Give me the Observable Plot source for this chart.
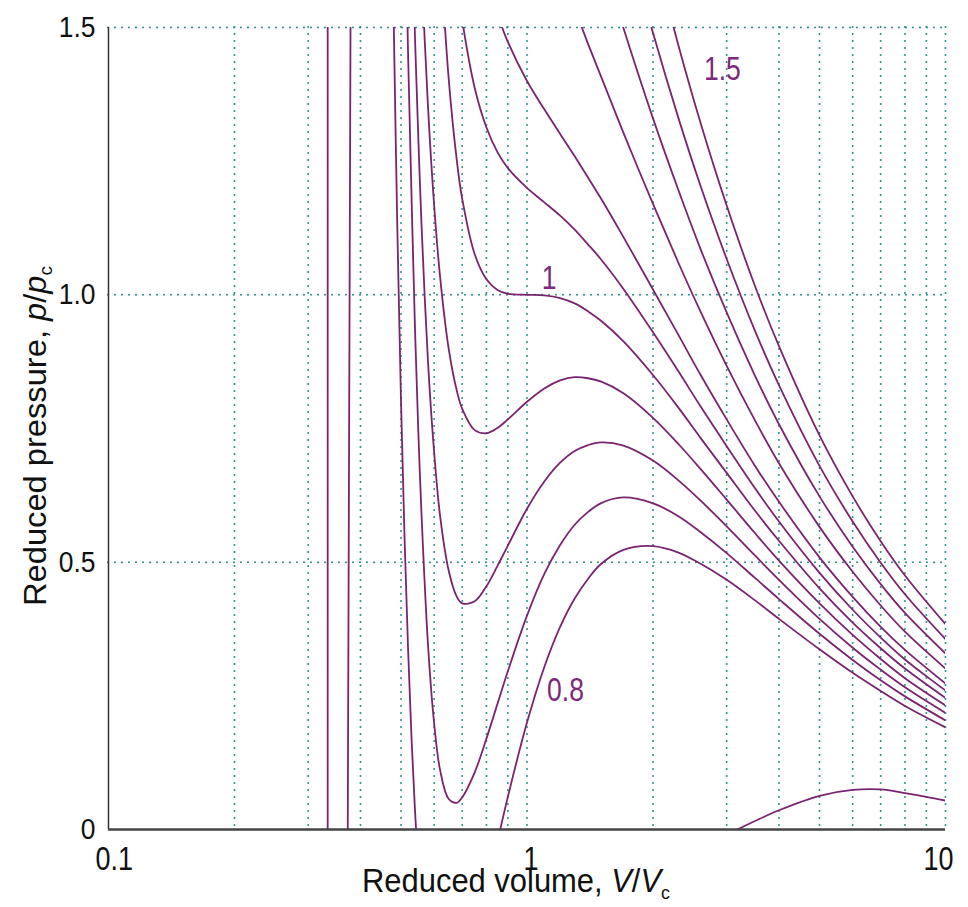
<!DOCTYPE html>
<html>
<head>
<meta charset="utf-8">
<script src="https://cdn.jsdelivr.net/npm/d3@7"></script>
<script src="https://cdn.jsdelivr.net/npm/@observablehq/plot@0.6"></script>
<style>
  html, body { margin: 0; padding: 0; background: #fff; }
  #chart svg { display: block; }
</style>
</head>
<body>
<div id="chart"></div>
<script>
// Reduced volume sample points (V/Vc)
const vol = [0.48,0.49,0.5,0.51,0.52,0.53,0.54,0.55,0.56,0.58,0.6,0.62,0.65,0.68,0.7,0.75,0.8,0.85,0.9,1.0,1.1,1.2,1.3,1.4,1.5,1.7,2.0,2.3,2.6,3.0,3.5,4,5,6,7,8,10];

// Reduced pressure (p/pc) read along each isotherm (reduced temperature)
const temps = [0.8, 0.85, 0.9, 0.95, 1.0, 1.05, 1.1, 1.2, 1.3, 1.4, 1.5];
const p080 = [1.524,1.122,0.8,0.541,0.334,0.167,0.035,-0.071,-0.154,-0.269,-0.333,-0.362,-0.364,-0.334,-0.304,-0.213,-0.116,-0.023,0.061,0.2,0.304,0.379,0.432,0.469,0.496,0.523,0.53,0.518,0.497,0.467,0.429,0.394,0.337,0.293,0.259,0.231,0.191];
const p085 = [null,null,2.17,1.769,1.445,1.178,0.935,0.743,0.585,0.346,0.198,0.111,0.057,0.050,0.060,0.107,0.170,0.235,0.296,0.4,0.478,0.532,0.570,0.594,0.610,0.621,0.61,0.586,0.556,0.517,0.471,0.431,0.366,0.317,0.279,0.249,0.204];
const p090 = [null,null,null,null,1.98,1.709,1.48,1.292,1.127,0.875,0.705,0.586,0.484,0.435,0.423,0.427,0.455,0.493,0.531,0.6,0.651,0.686,0.708,0.719,0.724,0.718,0.69,0.653,0.615,0.567,0.513,0.467,0.394,0.340,0.299,0.266,0.218];
const p095 = [null,null,null,null,null,null,null,1.775,1.610,1.352,1.167,1.033,0.899,0.820,0.787,0.747,0.741,0.751,0.767,0.8,0.825,0.840,0.846,0.844,0.838,0.816,0.77,0.721,0.674,0.617,0.555,0.503,0.423,0.364,0.319,0.283,0.232];
const p100 = [null,null,null,null,null,null,null,null,null,2.145,1.859,1.647,1.404,1.25,1.18,1.076,1.029,1.009,1.002,1.0,0.999,0.994,0.984,0.969,0.952,0.913,0.85,0.789,0.732,0.667,0.597,0.540,0.451,0.387,0.339,0.301,0.246];
const p105 = [null,null,null,null,null,null,null,null,null,null,null,1.963,1.741,1.589,1.514,1.387,1.313,1.267,1.237,1.2,1.173,1.148,1.122,1.094,1.067,1.011,0.93,0.857,0.791,0.717,0.639,0.576,0.48,0.411,0.359,0.318,0.260];
const p110 = [null,null,null,null,null,null,null,null,null,null,null,null,null,null,null,1.707,1.598,1.525,1.473,1.4,1.347,1.301,1.259,1.219,1.181,1.108,1.01,0.925,0.850,0.767,0.681,0.613,0.509,0.435,0.379,0.336,0.273];
const p120 = [null,null,null,null,null,null,null,null,null,null,null,null,null,null,null,null,null,null,null,null,1.695,1.609,1.535,1.469,1.410,1.303,1.17,1.060,0.968,0.867,0.766,0.685,0.566,0.482,0.419,0.370,0.301];
const p130 = [null,null,null,null,null,null,null,null,null,null,null,null,null,null,null,null,null,null,null,null,null,null,null,1.719,1.638,1.499,1.33,1.196,1.085,0.967,0.850,0.758,0.623,0.529,0.459,0.405,0.329];
const p140 = [null,null,null,null,null,null,null,null,null,null,null,null,null,null,null,null,null,null,null,null,null,null,null,null,1.867,1.694,1.49,1.331,1.203,1.067,0.934,0.831,0.68,0.576,0.499,0.440,0.356];
const p150 = [null,null,null,null,null,null,null,null,null,null,null,null,null,null,null,null,null,null,null,null,null,null,null,null,null,1.889,1.65,1.467,1.321,1.167,1.018,0.904,0.737,0.623,0.539,0.475,0.384];
const pressures = [p080, p085, p090, p095, p100, p105, p110, p120, p130, p140, p150];

// Low-temperature isotherm (two visible branches) and the near-vertical line at V ≈ 1/3
const lowLeftVol = [0.3787, 0.3730];
const lowLeftP = [1.5, 0];
const lowRightVol = [3.18, 3.6, 4.0, 5.0, 6.0, 7.0, 8.0, 9.0, 10];
const lowRightP = [0, 0.02, 0.036, 0.063, 0.074, 0.075, 0.068, 0.061, 0.054];
const asymVol = [0.334, 0.334];
const asymP = [0, 1.5];

// Grid and ticks
const xGrid = [0.2,0.3,0.4,0.5,0.6,0.7,0.8,0.9,1,2,3,4,5,6,7,8,9,10];
const yGrid = [0.5, 1.0, 1.5];
const xTickValues = [0.1, 1, 10];
const xTickLabels = ["0.1", "1", "10"];
const yTickValues = [0, 0.5, 1.0, 1.5];
const yTickLabels = ["0", "0.5", "1.0", "1.5"];

// Curve labels
const labelText = ["1.5", "1", "0.8"];
const labelVol = [2.93, 1.129, 1.236];
const labelP = [1.423, 1.032, 0.26];

// Build tables
const isoTable = temps.flatMap((T, k) =>
  vol.map((V, i) => ({T, V, p: pressures[k][i]})).filter(d => d.p != null));
const extraTable = [
  ...lowLeftVol.map((V, i) => ({id: "lowL", V, p: lowLeftP[i]})),
  ...lowRightVol.map((V, i) => ({id: "lowR", V, p: lowRightP[i]})),
  ...asymVol.map((V, i) => ({id: "asym", V, p: asymP[i]}))
];
const labels = labelText.map((t, i) => ({t, V: labelVol[i], p: labelP[i]}));

const purple = "#7a2470";
const teal = "#2a8a8a";
const FONT = "Liberation Sans, Arial, Helvetica, sans-serif";

const plot = Plot.plot({
  width: 968,
  height: 907,
  marginLeft: 108,
  marginRight: 23,
  marginTop: 27,
  marginBottom: 78,
  style: {fontFamily: FONT, background: "#fff", overflow: "visible"},
  x: {type: "log", domain: [0.1, 10], axis: null},
  y: {domain: [0, 1.5], axis: null},
  marks: [
    Plot.ruleX(xGrid, {x: d => d, stroke: teal, strokeWidth: 2, strokeDasharray: "0 7", strokeLinecap: "round"}),
    Plot.ruleY(yGrid, {y: d => d, stroke: teal, strokeWidth: 2, strokeDasharray: "0 7", strokeLinecap: "round"}),
    Plot.line(isoTable, {x: "V", y: "p", z: "T", stroke: purple, strokeWidth: 1.8, curve: "catmull-rom", clip: true}),
    Plot.line(extraTable, {x: "V", y: "p", z: "id", stroke: purple, strokeWidth: 1.8, curve: "catmull-rom", clip: true}),
    Plot.ruleX([0.1], {stroke: "#333", strokeWidth: 1.5}),
    Plot.ruleY([0], {stroke: "#444", strokeWidth: 2.5}),
    // y tick labels
    Plot.text(yTickValues, {x: () => 0.1, y: d => d, text: (d, i) => yTickLabels[i], textAnchor: "end", lineAnchor: "middle", dx: -13, fontSize: 30, fill: "#111"}),
    // x tick labels
    Plot.text(xTickValues, {filter: (d, i) => i === 0, x: d => d, y: () => 0, text: (d, i) => xTickLabels[i], textAnchor: "start", lineAnchor: "middle", dx: -13, dy: 30, fontSize: 32.5, fill: "#111"}),
    Plot.text(xTickValues, {filter: (d, i) => i === 1, x: d => d, y: () => 0, text: (d, i) => xTickLabels[i], textAnchor: "middle", lineAnchor: "middle", dx: 4, dy: 30, fontSize: 32.5, fill: "#111"}),
    Plot.text(xTickValues, {filter: (d, i) => i === 2, x: d => d, y: () => 0, text: (d, i) => xTickLabels[i], textAnchor: "end", lineAnchor: "middle", dx: 8, dy: 30, fontSize: 32.5, fill: "#111"}),
    // curve labels
    Plot.text(labels, {x: "V", y: "p", text: "t", textAnchor: "middle", lineAnchor: "middle", fontSize: 34, fill: "#7d2a7a"})
  ]
});

document.getElementById("chart").appendChild(plot);

// horizontal condensing of some texts
function squeeze(sel, s) {
  plot.querySelectorAll(sel).forEach(el => {
    const t = el.getAttribute("transform");
    if (t) el.setAttribute("transform", t + ` scale(${s},1)`);
    else {
      const x = +el.getAttribute("x") || 0, y = +el.getAttribute("y") || 0;
      el.removeAttribute("x"); el.removeAttribute("y");
      el.setAttribute("transform", `translate(${x},${y}) scale(${s},1)`);
    }
  });
}
squeeze('g[font-size="30"] text', 0.88);
squeeze('g[font-size="32.5"] text', 0.83);
squeeze('g[font-size="34"] text', 0.78);

// axis titles with italic symbols and subscripts
const svg = d3.select(plot);
const xt = svg.append("text")
  .attr("x", 362).attr("y", 892)
  .attr("text-anchor", "start")
  .attr("font-family", FONT).attr("font-size", 33).attr("fill", "#111")
  .attr("textLength", 308).attr("lengthAdjust", "spacingAndGlyphs");
xt.append("tspan").text("Reduced volume, ");
xt.append("tspan").attr("font-style", "italic").text("V");
xt.append("tspan").text("/");
xt.append("tspan").attr("font-style", "italic").text("V");
xt.append("tspan").attr("font-size", 19).attr("dy", 7).text("c");

const yt = svg.append("text")
  .attr("transform", "translate(46,606) rotate(-90)")
  .attr("text-anchor", "start")
  .attr("font-family", FONT).attr("font-size", 31).attr("fill", "#111")
  .attr("textLength", 340).attr("lengthAdjust", "spacingAndGlyphs");
yt.append("tspan").text("Reduced pressure, ");
yt.append("tspan").attr("font-style", "italic").text("p");
yt.append("tspan").text("/");
yt.append("tspan").attr("font-style", "italic").text("p");
yt.append("tspan").attr("font-size", 18).attr("dy", 6).text("c");
</script>
</body>
</html>
